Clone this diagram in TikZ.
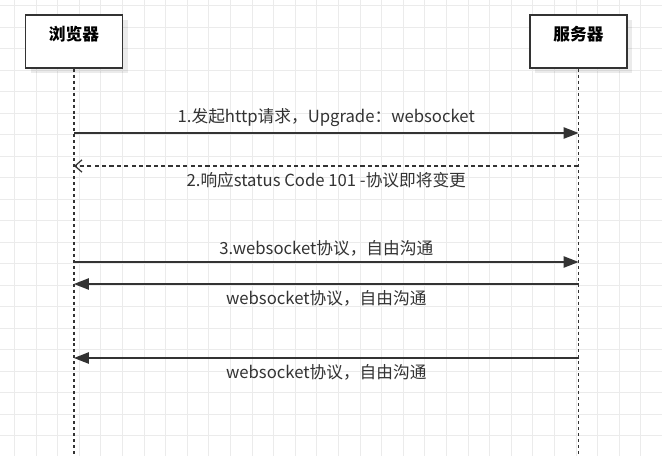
\documentclass[tikz,border=0pt]{standalone}
\usepackage{fontspec}
\setmainfont{Noto Sans CJK SC}
\usetikzlibrary{arrows.meta,shadows}
\definecolor{inkgray}{HTML}{333333}
\definecolor{gridgray}{HTML}{EBEBEB}

\begin{document}
\begin{tikzpicture}[x=0.02cm,y=-0.02cm]
        \tikzset{lifebox/.style = {shape=rectangle,draw=inkgray,fill=white,line width=0.8pt,
                minimum width=97*0.02cm,minimum height=53*0.02cm,
                drop shadow={shadow xshift=3pt,shadow yshift=-3pt,fill=black,opacity=0.08}}}
        \tikzset{lifeline/.style = {draw=inkgray,line width=0.6pt,dash pattern=on 1.7pt off 1.7pt}}
        \tikzset{msg/.style = {draw=inkgray,line width=0.8pt,-{Triangle[length=8.5pt,width=6.5pt]}}}
        \tikzset{reply/.style = {draw=inkgray,line width=0.7pt,dash pattern=on 2.4pt off 1.8pt,
                -{Straight Barb[length=4pt,width=7pt]}}}
        \tikzset{msglabel/.style = {text=inkgray,font=\fontsize{9.5pt}{11pt}\selectfont,inner sep=2pt}}

        \useasboundingbox[fill=white] (0,0) rectangle (662,456);

        % grid
        \foreach \k in {0,...,30}
            \draw[gridgray,line width=0.5pt] ({14.5+21.6*\k},0) -- ({14.5+21.6*\k},456);
        \foreach \k in {0,...,21}
            \draw[gridgray,line width=0.5pt] (0,{5.5+21.5*\k}) -- (662,{5.5+21.5*\k});

        % participants
        \node[lifebox, label={[anchor=north,yshift=-3pt,text=black,font=\fontsize{9.5pt}{11pt}\selectfont\bfseries]north:浏览器}]
            (browser) at (74,41.5) {};
        \node[lifebox, label={[anchor=north,yshift=-3pt,text=black,font=\fontsize{9.5pt}{11pt}\selectfont\bfseries]north:服务器}]
            (server) at (578.5,41.5) {};

        \coordinate (browser-end) at (browser |- 0,456);
        \coordinate (server-end) at (server |- 0,456);
        \draw[lifeline] (browser) -- (browser-end);
        \draw[lifeline] (server) -- (server-end);

        \foreach \y/\n in {133/1,166/2,262/3,284/4,358/5} {
            \coordinate (b\n) at (browser |- 0,\y);
            \coordinate (s\n) at (server |- 0,\y);
        }

        %messages
        \draw[msg] (b1) -- node[msglabel,above=1pt] {1.发起http请求，Upgrade：websocket} (s1);
        \draw[reply] (s2) -- node[msglabel,below=1.5pt] {2.响应status Code 101 -协议即将变更} (b2);
        \draw[msg] (b3) -- node[msglabel,above=1pt] {3.websocket协议，自由沟通} (s3);
        \draw[msg] (s4) -- node[msglabel,below=1.5pt] {websocket协议，自由沟通} (b4);
        \draw[msg] (s5) -- node[msglabel,below=1.5pt] {websocket协议，自由沟通} (b5);

    \end{tikzpicture}
\end{document}
